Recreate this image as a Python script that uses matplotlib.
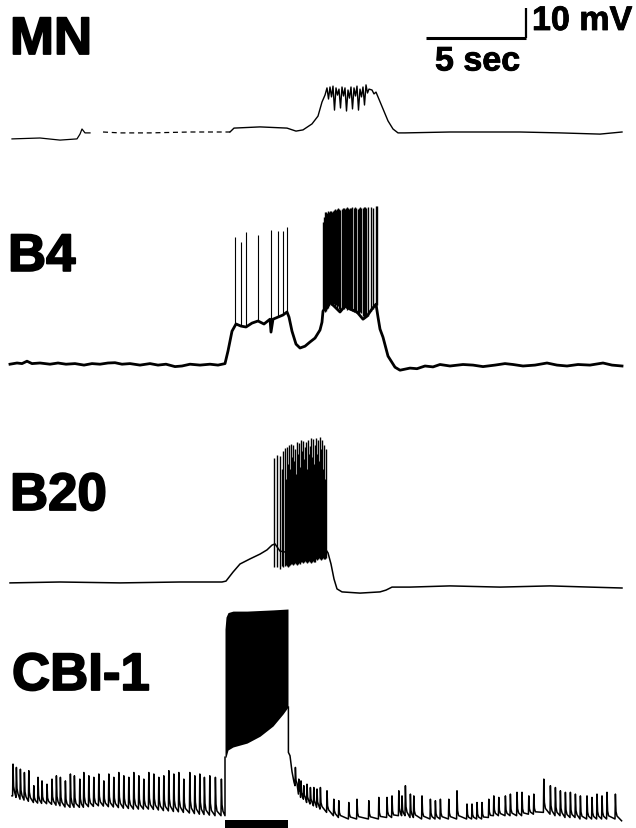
import numpy as np
import matplotlib
matplotlib.use("Agg")
import matplotlib.pyplot as plt
import matplotlib.patheffects as pe

# time in s, membrane potential in mV relative to each cell's resting level

# ----- MN -----
mn_t = [0.1, 1.5, 2.5, 3.35, 3.5, 3.6, 3.75, 4.0]
mn_v = [-2.3, -2.0, -2.7, -2.3, -0.7, 1.0, -0.3, -0.3]
mn_faint_t = [4.65, 5.5, 7.0, 9.0, 11.0]
mn_faint_v = [0.0, -0.3, -0.3, 0.0, 0.0]
mn_main_t = [11.0, 11.2, 12.5, 13.85, 14.3, 14.65, 15.1, 15.4, 15.6, 15.75,
             15.85, 15.925, 16.0, 16.075, 16.15, 16.225, 16.3, 16.375, 16.45, 16.525,
             16.6, 16.675, 16.75, 16.825, 16.9, 16.975, 17.05, 17.125, 17.2, 17.275,
             17.35, 17.425, 17.5, 17.575, 17.65, 17.725, 17.8, 17.875, 17.95, 18.1,
             18.2, 18.3, 18.4, 18.65, 18.9, 19.15, 19.4, 19.75, 22.0, 25.5,
             27.5, 29.5, 30.6]
mn_main_v = [0.0, 1.3, 1.7, 1.3, 0.3, 0.7, 2.7, 5.3, 10.0, 12.3,
             14.7, 11.0, 15.0, 11.7, 15.3, 7.3, 14.7, 12.3, 14.3, 8.0,
             15.0, 12.0, 14.7, 7.0, 14.0, 11.3, 15.0, 7.7, 14.7, 12.0,
             15.3, 7.3, 14.3, 11.7, 15.0, 9.0, 15.7, 13.0, 14.3, 14.0,
             12.7, 13.3, 11.7, 7.7, 3.7, 1.0, -0.3, -0.3, 0.0, 0.0,
             -0.3, -0.7, 0.0]

# ----- B4 -----
b4_t = [0.0, 0.35, 0.6, 0.85, 1.1, 1.5, 2.0, 2.4, 2.8, 3.25,
        3.7, 4.1, 4.5, 4.9, 5.25, 5.6, 6.0, 6.5, 7.0, 7.4,
        7.8, 8.25, 8.6, 9.0, 9.5, 10.0, 10.4, 10.75, 10.9, 11.1,
        11.3, 11.55, 11.8, 12.1, 12.4, 12.7, 13.0, 13.05, 13.15, 13.4,
        13.65, 13.85, 13.95, 14.1, 14.3, 14.5, 14.75, 15.0, 15.25, 15.5,
        15.6, 15.65, 16.0, 16.5, 16.75, 17.0, 17.35, 17.65, 17.85, 18.1,
        18.3, 18.4, 18.5, 18.65, 18.9, 19.25, 19.5, 20.0, 20.35, 20.75,
        21.15, 21.5, 22.0, 22.65, 23.15, 23.65, 24.25, 24.75, 25.15, 25.65,
        26.25, 26.85, 27.35, 27.85, 28.4, 29.0, 29.65, 30.1, 30.6]
b4_v = [0.3, 0.7, 0.5, 1.3, 0.5, 0.7, 0.3, 0.7, 0.3, 0.5,
        0.0, 0.5, 0.3, 0.7, 0.8, 0.3, 0.5, 0.0, 0.5, 0.0,
        0.3, -0.5, -0.3, 0.3, 0.0, 0.3, 0.0, 0.5, 4.7, 11.3,
        13.7, 13.0, 12.7, 14.0, 14.7, 13.7, 15.3, 11.0, 15.3, 16.0,
        16.7, 17.7, 16.0, 11.3, 7.0, 5.7, 6.3, 7.7, 9.0, 11.7,
        14.3, 18.0, 21.0, 17.7, 19.7, 18.7, 17.7, 15.3, 16.3, 18.7,
        20.3, 16.0, 12.0, 9.3, 3.0, -0.7, -1.7, -1.0, -1.2, -0.3,
        -0.6, 0.2, -0.3, 0.2, 0.0, -0.5, 0.0, 0.5, 0.2, -0.3,
        0.0, 0.7, 0.0, -0.3, 0.2, 0.0, 0.7, 0.0, -0.3]
b4_spk_t = [11.25, 11.55, 11.8, 12.4, 13.05, 13.4, 13.65, 13.85]
b4_spk_peak = [42.7, 41.0, 44.3, 43.3, 45.0, 44.7, 44.7, 46.0]
b4_spk_foot = [13.3, 13.0, 12.7, 14.7, 14.7, 16.0, 16.7, 17.7]
b4_burst_t = [15.65, 15.70, 15.75, 15.80, 15.85, 15.90, 15.95, 16.00, 16.05, 16.10,
              16.15, 16.20, 16.25, 16.30, 16.35, 16.40, 16.45, 16.50, 16.60, 16.65,
              16.70, 16.75, 16.80, 16.85, 16.90, 16.95, 17.00, 17.05, 17.10, 17.20,
              17.25, 17.30, 17.40, 17.45, 17.50, 17.55, 17.65, 17.70, 17.75, 17.80,
              17.90, 18.05, 18.15, 18.30, 18.35]
b4_burst_peak = [47.7, 49.3, 51.0, 51.0, 50.7, 51.3, 51.0, 51.3, 51.3, 51.0,
                 51.3, 51.7, 52.0, 51.7, 52.0, 52.3, 52.0, 51.7, 52.0, 52.3,
                 52.3, 52.0, 52.3, 52.7, 52.3, 52.0, 52.3, 52.3, 52.7, 52.3,
                 52.7, 52.3, 52.0, 52.3, 52.7, 52.3, 52.3, 52.7, 52.7, 52.3,
                 52.7, 52.7, 52.3, 53.0, 53.0]
b4_burst_foot = [18.0, 18.3, 17.7, 18.0, 18.7, 19.0, 19.7, 20.3, 20.0, 20.3,
                 19.7, 20.3, 19.3, 20.0, 19.0, 19.7, 18.7, 18.3, 18.7, 19.3,
                 18.7, 19.7, 19.0, 18.3, 18.7, 19.0, 18.3, 18.7, 18.0, 17.7,
                 18.0, 17.3, 17.7, 17.0, 17.7, 17.3, 16.3, 15.7, 16.0, 16.7,
                 16.3, 18.0, 18.7, 19.3, 20.0]

# ----- B20 -----
b20_t = [0.0, 2.5, 5.5, 8.5, 10.6, 10.8, 11.15, 11.5, 12.0, 12.5,
         12.85, 13.1, 13.25, 13.5, 14.0, 14.5, 15.0, 15.5, 15.8, 15.9,
         16.05, 16.2, 16.35, 16.6, 17.5, 18.5, 18.8, 19.1, 20.0, 22.0,
         24.5, 27.0, 29.0, 30.6]
b20_v = [0.7, 1.0, 0.7, 1.0, 1.0, 1.3, 4.3, 7.0, 8.7, 10.3,
         11.7, 13.3, 13.7, 11.3, 10.7, 11.0, 11.3, 11.0, 11.7, 10.7,
         7.0, 2.0, -1.3, -2.3, -2.7, -2.3, -1.7, -0.7, -0.7, -0.3,
         -0.7, -0.3, -0.7, -1.0]
b20_spk_t = [13.20, 13.35, 13.50, 13.60, 13.65, 13.75, 13.80, 13.85, 13.90, 13.95,
             14.00, 14.05, 14.10, 14.15, 14.20, 14.25, 14.30, 14.35, 14.40, 14.45,
             14.50, 14.55, 14.60, 14.65, 14.70, 14.75, 14.80, 14.85, 14.90, 14.95,
             15.00, 15.05, 15.10, 15.15, 15.20, 15.25, 15.30, 15.35, 15.40, 15.45,
             15.50, 15.55, 15.60, 15.65, 15.70, 15.75, 15.80]
b20_spk_peak = [42.3, 43.3, 43.0, 38.7, 44.7, 45.7, 35.3, 46.0, 40.3, 46.7,
                38.7, 47.0, 42.7, 46.7, 41.3, 45.3, 37.0, 47.7, 43.7, 47.3,
                39.3, 48.3, 44.7, 48.0, 42.0, 46.0, 47.7, 38.7, 48.3, 43.7,
                46.3, 49.0, 42.7, 48.7, 40.3, 46.7, 49.0, 43.7, 48.3, 41.3,
                49.3, 45.3, 48.3, 38.7, 46.7, 35.3, 45.3]
b20_spk_foot = [6.0, 6.0, 5.3, 6.3, 6.0, 6.3, 6.7, 6.3, 6.0, 6.3,
                6.7, 7.0, 7.0, 6.7, 7.0, 7.3, 7.0, 6.7, 7.0, 7.3,
                7.0, 7.7, 7.7, 7.3, 7.7, 8.0, 7.7, 7.3, 7.7, 8.0,
                7.7, 7.3, 7.7, 8.0, 7.7, 7.7, 8.7, 8.3, 8.7, 9.0,
                8.7, 8.3, 8.7, 9.0, 8.7, 8.7, 9.0]

# ----- CBI-1 -----
cbi_pre_t = [0.13, 0.3, 0.5, 0.7, 0.92, 1.17, 1.38, 1.58, 1.83, 2.08,
             2.3, 2.5, 2.75, 3.0, 3.2, 3.47, 3.67, 3.92, 4.17, 4.42,
             4.67, 4.92, 5.17, 5.42, 5.67, 5.92, 6.17, 6.42, 6.67, 6.92,
             7.17, 7.42, 7.67, 7.92, 8.17, 8.42, 8.67, 8.97, 9.22, 9.47,
             9.7, 9.97, 10.25, 10.55]
cbi_pre_peak = [15.0, 13.9, 13.3, 12.2, 12.8, 7.8, 10.6, 9.4, 8.3, 10.0,
                11.1, 10.6, 9.4, 11.7, 11.1, 10.0, 12.2, 11.1, 10.6, 11.7,
                9.4, 11.7, 10.6, 12.2, 11.1, 10.6, 12.2, 11.1, 10.0, 12.2,
                11.7, 10.6, 11.1, 12.8, 11.7, 12.2, 10.0, 12.2, 11.1, 11.7,
                10.6, 11.1, 10.6, 10.0]
cbi_pre_foot = [4.4, 3.9, 3.3, 3.0, 2.6, 2.2, 2.0, 1.9, 1.8, 1.6,
                1.3, 1.1, 0.7, 0.6, 0.6, 0.6, 0.6, 0.8, 0.9, 1.1,
                1.0, 0.8, 0.7, 0.5, 0.3, 0.2, 0.0, 0.0, 0.0, 0.0,
                -0.1, -0.3, -0.5, -0.6, -0.8, -0.9, -1.1, -1.3, -1.5, -1.7,
                -1.8, -2.0, -2.2, -2.2]
cbi_post_t = [14.25, 14.42, 14.53, 14.67, 14.83, 15.0, 15.17, 15.33, 15.5, 15.83,
              16.17, 16.42, 16.92, 17.33, 17.92, 18.42, 18.83, 19.08, 19.42, 19.58,
              19.75, 20.0, 20.17, 20.58, 21.0, 21.25, 21.5, 21.92, 22.33, 22.83,
              23.08, 23.33, 23.58, 23.92, 24.17, 24.42, 24.75, 25.0, 25.33, 25.58,
              25.92, 26.17, 26.67, 27.0, 27.25, 27.5, 27.75, 28.0, 28.25, 28.5,
              28.83, 29.08, 29.33, 29.58, 29.83, 30.25]
cbi_post_peak = [13.9, 10.0, 9.4, 7.8, 8.3, 7.2, 7.2, 6.7, 7.2, 6.1,
                 3.3, 2.8, 2.2, 3.3, 2.8, 3.9, 3.9, 4.4, 6.1, 4.4,
                 7.8, 5.0, 4.4, 4.4, 3.3, 2.8, 3.3, 3.3, 6.1, 1.7,
                 1.7, 2.2, 2.2, 3.3, 4.4, 3.9, 4.4, 5.0, 5.6, 5.6,
                 4.4, 5.0, 10.0, 7.8, 7.2, 6.1, 5.6, 5.6, 5.0, 4.4,
                 4.4, 3.9, 5.0, 4.4, 5.6, 5.0]
cbi_post_foot = [7.8, 5.0, 3.9, 3.3, 2.2, 1.7, 1.1, 0.6, 0.0, -1.1,
                 -2.2, -2.8, -3.3, -3.3, -3.3, -3.3, -2.8, -2.8, -2.2, -2.2,
                 -2.2, -2.8, -2.8, -3.3, -3.3, -3.3, -3.3, -3.3, -3.3, -3.3,
                 -3.3, -3.3, -3.3, -2.8, -2.2, -2.2, -2.2, -2.2, -2.2, -2.2,
                 -1.7, -1.7, -1.1, -1.7, -2.2, -2.2, -2.8, -2.8, -2.8, -3.3,
                 -3.3, -3.3, -3.3, -3.3, -3.3, -3.3]
# tail right after the current step
cbi_tail_t = [13.92, 13.92, 14.0, 14.1, 14.2]
cbi_tail_v = [34.0, 18.9, 17.8, 12.5, 9.0]
cbi_end = (30.58, -3.9)
# spiking envelope during the depolarizing current step
cbi_stim_t = [10.75, 10.8, 10.9, 11.15, 11.85, 12.5, 13.15, 13.65, 13.9]
cbi_stim_top = [60.0, 64.0, 65.5, 66.0, 66.0, 66.2, 66.4, 66.6, 66.7]
cbi_stim_bottom = [17.3, 17.3, 19.7, 20.7, 22.0, 24.3, 27.7, 31.7, 34.0]
stim_on, stim_off = 10.75, 13.9

# vertical position of each trace's rest level (mV on the page)
offsets = {"MN": 232.0, "B4": 154.3, "B20": 81.0, "CBI-1": 6.3}
label_pos = {"MN": (0.0, 258.0), "B4": (-0.1, 185.7),
             "B20": (0.0, 106.0), "CBI-1": (0.1, 46.0)}

scale_sec, scale_mv = 5, 10


def epsp_trace(times, feet, peaks):
    # sharp rise, fast partial decay, slow tail back to the next foot
    ts, vs = [], []
    for t, f, p in zip(times, feet, peaks):
        ts += [t, t + 0.02, t + 0.05, t + 0.1]
        vs += [f, p, f + 0.3 * (p - f), f + 0.12 * (p - f)]
    return ts, vs


fig = plt.figure(figsize=(6.36, 8.29), dpi=100)
ax = fig.add_axes([0, 0, 1, 1])
ax.set_xlim(-0.5, 31.3)
ax.set_ylim(0, 829 / 3)
ax.axis("off")

k = "black"

# MN
off = offsets["MN"]
ax.plot(mn_t, np.add(mn_v, off), color=k, lw=0.9)
ax.plot(mn_faint_t, np.add(mn_faint_v, off), color=k, lw=0.9, ls=(0, (4, 3)))
ax.plot(mn_main_t, np.add(mn_main_v, off), color=k, lw=1.0)

# B4
off = offsets["B4"]
ax.plot(b4_t, np.add(b4_v, off), color=k, lw=2.0)
ax.vlines(b4_spk_t, np.add(b4_spk_foot, off), np.add(b4_spk_peak, off), color=k, lw=0.8)
ax.vlines(b4_burst_t, np.add(b4_burst_foot, off), np.add(b4_burst_peak, off), color=k, lw=1.0)

# B20
off = offsets["B20"]
ax.plot(b20_t, np.add(b20_v, off), color=k, lw=1.1)
ax.vlines(b20_spk_t, np.add(b20_spk_foot, off), np.add(b20_spk_peak, off), color=k, lw=1.0)

# CBI-1
off = offsets["CBI-1"]
pre_t, pre_v = epsp_trace(cbi_pre_t, cbi_pre_foot, cbi_pre_peak)
pre_t = [0.1] + pre_t + [stim_on, stim_on]
pre_v = [cbi_pre_foot[0]] + pre_v + [cbi_pre_foot[-1], cbi_stim_bottom[0]]
ax.plot(pre_t, np.add(pre_v, off), color=k, lw=1.1)
post_t, post_v = epsp_trace(cbi_post_t, cbi_post_foot, cbi_post_peak)
post_t = cbi_tail_t + post_t + [cbi_end[0]]
post_v = cbi_tail_v + post_v + [cbi_end[1]]
ax.plot(post_t, np.add(post_v, off), color=k, lw=1.1)
ax.fill_between(cbi_stim_t, np.add(cbi_stim_bottom, off), np.add(cbi_stim_top, off),
                color=k, lw=0)
# current step marker
ax.fill_between([stim_on, stim_off], 0, 2.7, color=k, lw=0)

# cell labels (heavy print look)
heavy = [pe.withStroke(linewidth=1.3, foreground=k)]
for name, (x, y) in label_pos.items():
    ax.text(x, y, name, family="Liberation Sans", weight="bold", fontsize=38,
            ha="left", va="baseline", color=k, path_effects=heavy)

# scale bar
corner_t, corner_y = 25.8, 263.3
ax.plot([corner_t - scale_sec, corner_t], [corner_y, corner_y], color=k, lw=2.2,
        solid_capstyle="butt")
ax.plot([corner_t, corner_t], [corner_y, corner_y + scale_mv], color=k, lw=1.6,
        solid_capstyle="butt")
thin = [pe.withStroke(linewidth=0.6, foreground=k)]
ax.text(corner_t + 0.3, corner_y + 2.7, f"{scale_mv} mV", family="Liberation Sans",
        weight="bold", fontsize=24.5, ha="left", va="baseline", color=k,
        path_effects=thin)
ax.text(corner_t - scale_sec + 0.45, corner_y - 10.8, f"{scale_sec} sec",
        family="Liberation Sans", weight="bold", fontsize=24.5, ha="left",
        va="baseline", color=k, path_effects=thin)

fig.savefig("out.png", dpi=100, facecolor="white")
